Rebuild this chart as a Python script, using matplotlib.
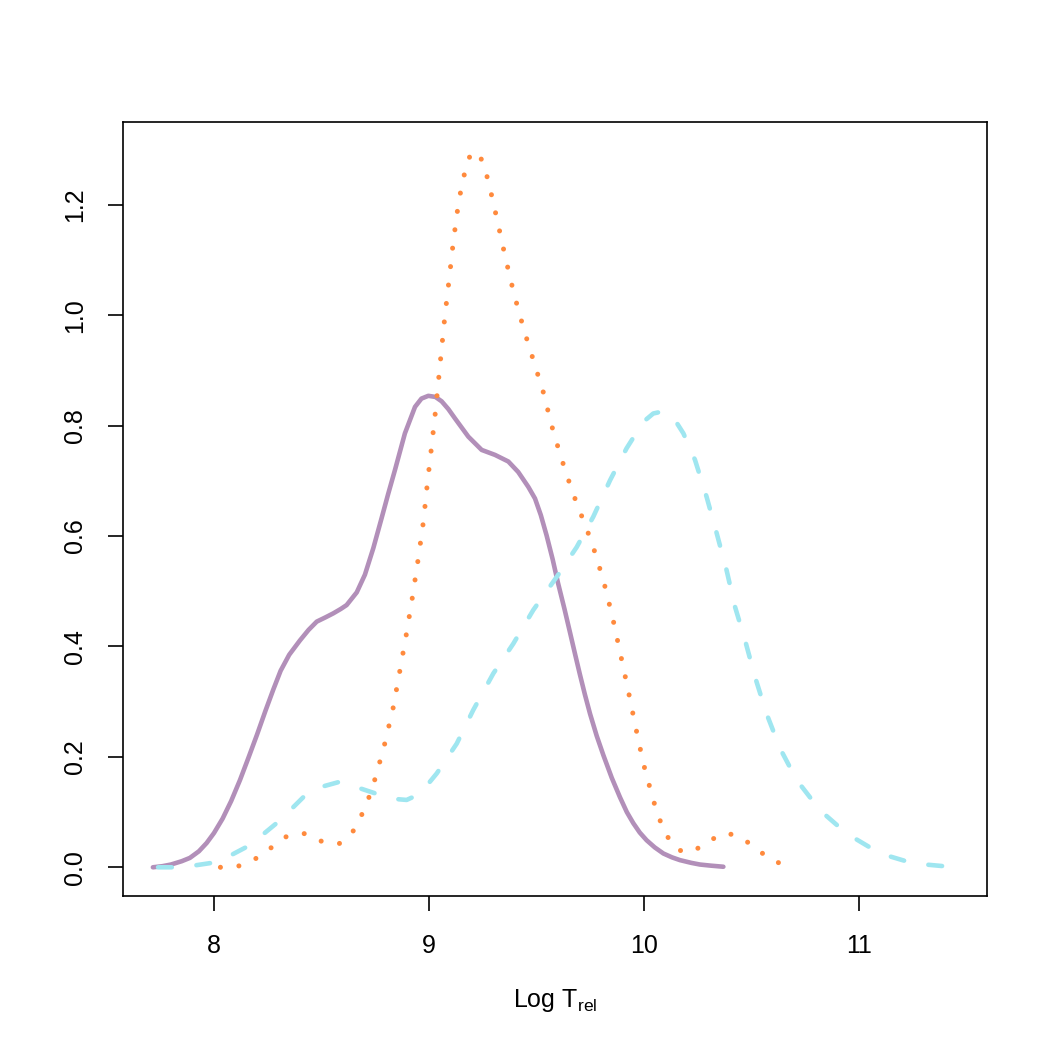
import matplotlib
matplotlib.use("Agg")
import matplotlib.pyplot as plt

plt.rcParams['font.family'] = ['Liberation Sans', 'DejaVu Sans']
plt.rcParams['mathtext.fontset'] = 'custom'
plt.rcParams['mathtext.rm'] = 'Liberation Sans'

# Density curves
purple_x = [7.716, 7.76, 7.80, 7.85, 7.888, 7.93, 7.966, 8.00, 8.04, 8.08, 8.121, 8.16, 8.20,
            8.24, 8.276, 8.31, 8.35, 8.40, 8.44, 8.478, 8.52, 8.555, 8.59, 8.617, 8.664, 8.702,
            8.741, 8.78, 8.81, 8.842, 8.888, 8.935, 8.965, 8.997, 9.03, 9.059, 9.09, 9.121,
            9.183, 9.245, 9.307, 9.369, 9.415, 9.462, 9.493, 9.52, 9.547, 9.575, 9.60, 9.63,
            9.656, 9.68, 9.702, 9.725, 9.749, 9.78, 9.811, 9.85, 9.888, 9.92, 9.95, 9.98,
            10.012, 10.05, 10.09, 10.13, 10.167, 10.22, 10.26, 10.31, 10.369]
purple_y = [0.000, 0.002, 0.005, 0.011, 0.017, 0.029, 0.044, 0.062, 0.088, 0.120, 0.158, 0.198,
            0.240, 0.284, 0.322, 0.356, 0.385, 0.411, 0.430, 0.445, 0.453, 0.460, 0.468, 0.475,
            0.498, 0.530, 0.578, 0.633, 0.676, 0.720, 0.786, 0.834, 0.849, 0.854, 0.852, 0.844,
            0.830, 0.813, 0.780, 0.756, 0.747, 0.735, 0.716, 0.689, 0.668, 0.638, 0.601, 0.558,
            0.515, 0.468, 0.425, 0.385, 0.349, 0.313, 0.278, 0.238, 0.203, 0.162, 0.127,
            0.100, 0.080, 0.063, 0.049, 0.036, 0.025, 0.018, 0.013, 0.008, 0.005, 0.003, 0.001]

orange_x = [8.03, 8.113, 8.195, 8.268, 8.338, 8.42, 8.501, 8.583, 8.648, 8.687, 8.721, 8.749,
            8.772, 8.795, 8.834, 8.865, 8.896, 8.924, 8.95, 8.974, 8.992, 9.012, 9.031, 9.05,
            9.074, 9.094, 9.113, 9.136, 9.152, 9.172, 9.19, 9.211, 9.235, 9.256, 9.279, 9.318,
            9.355, 9.395, 9.442, 9.493, 9.54, 9.563, 9.612, 9.667, 9.729, 9.76, 9.811, 9.853,
            9.89, 9.926, 9.961, 9.997, 10.042, 10.068, 10.102, 10.155, 10.20, 10.237, 10.31,
            10.391, 10.47, 10.54, 10.612, 10.695]
orange_y = [0.000, 0.002, 0.016, 0.036, 0.056, 0.061, 0.047, 0.043, 0.066, 0.095, 0.127, 0.160,
            0.192, 0.225, 0.290, 0.357, 0.425, 0.492, 0.559, 0.626, 0.694, 0.762, 0.829, 0.905,
            0.999, 1.066, 1.133, 1.200, 1.234, 1.268, 1.288, 1.297, 1.290, 1.271, 1.238, 1.171,
            1.105, 1.039, 0.973, 0.909, 0.850, 0.810, 0.745, 0.680, 0.617, 0.585, 0.520, 0.454,
            0.387, 0.321, 0.254, 0.188, 0.123, 0.091, 0.059, 0.032, 0.027, 0.031, 0.050,
            0.062, 0.049, 0.028, 0.010, 0.000]

cyan_x = [7.74, 7.81, 7.87, 7.99, 8.05, 8.167, 8.307, 8.431, 8.493, 8.586, 8.664, 8.757,
          8.834, 8.896, 8.958, 9.036, 9.129, 9.206, 9.299, 9.392, 9.485, 9.594, 9.687, 9.764,
          9.842, 9.919, 9.997, 10.043, 10.09, 10.144, 10.183, 10.237, 10.291, 10.338, 10.384,
          10.423, 10.47, 10.516, 10.57, 10.633, 10.71, 10.819, 10.943, 11.098, 11.253, 11.423,
          11.456]
cyan_y = [0.000, 0.000, 0.001, 0.008, 0.016, 0.040, 0.085, 0.133, 0.145, 0.155, 0.145, 0.133,
          0.124, 0.122, 0.133, 0.170, 0.224, 0.285, 0.351, 0.405, 0.466, 0.526, 0.580, 0.635,
          0.701, 0.759, 0.807, 0.822, 0.826, 0.810, 0.786, 0.738, 0.671, 0.605, 0.538,
          0.472, 0.411, 0.345, 0.278, 0.215, 0.158, 0.103, 0.061, 0.025, 0.007, 0.001,
          0.000]

x_ticks = [8, 9, 10, 11]
y_ticks = [0.0, 0.2, 0.4, 0.6, 0.8, 1.0, 1.2]
y_tick_labels = ["0.0", "0.2", "0.4", "0.6", "0.8", "1.0", "1.2"]
x_label = r"Log T$_{\mathrm{rel}}$"

fig = plt.figure(figsize=(7, 7), dpi=150)
ax = fig.add_axes([123/1050, 1 - 896/1050, (987-123)/1050, (896-122)/1050])

lw = 2.2
ax.plot(purple_x, purple_y, color='#B28FB9', lw=lw, solid_capstyle='round',
        solid_joinstyle='round')
ax.plot(orange_x, orange_y, color='#FF8A3D', lw=2.4, linestyle=(0, (0.01, 3.7)),
        dash_capstyle='round')
ax.plot(cyan_x, cyan_y, color='#9FE6F0', lw=lw, linestyle=(0, (3.0, 5.4)),
        dash_capstyle='round')

ax.set_xlim(7.577, 11.595)
ax.set_ylim(-0.052, 1.350)
ax.set_xticks(x_ticks)
ax.set_xticklabels([str(t) for t in x_ticks])
ax.set_yticks(y_ticks)
ax.set_yticklabels(y_tick_labels)

for s in ax.spines.values():
    s.set_linewidth(0.8)
    s.set_color('black')
ax.tick_params(axis='both', length=7.2, width=0.8, labelsize=12, colors='black')
ax.tick_params(axis='x', pad=11)
ax.tick_params(axis='y', pad=10)
for lab in ax.get_yticklabels():
    lab.set_rotation(90)
    lab.set_va('center')
    lab.set_ha('right')

fig.text(555/1050, 1 - 1007/1050, x_label, ha='center', va='baseline', fontsize=12)

fig.savefig("out.png", dpi=150, facecolor='white')
